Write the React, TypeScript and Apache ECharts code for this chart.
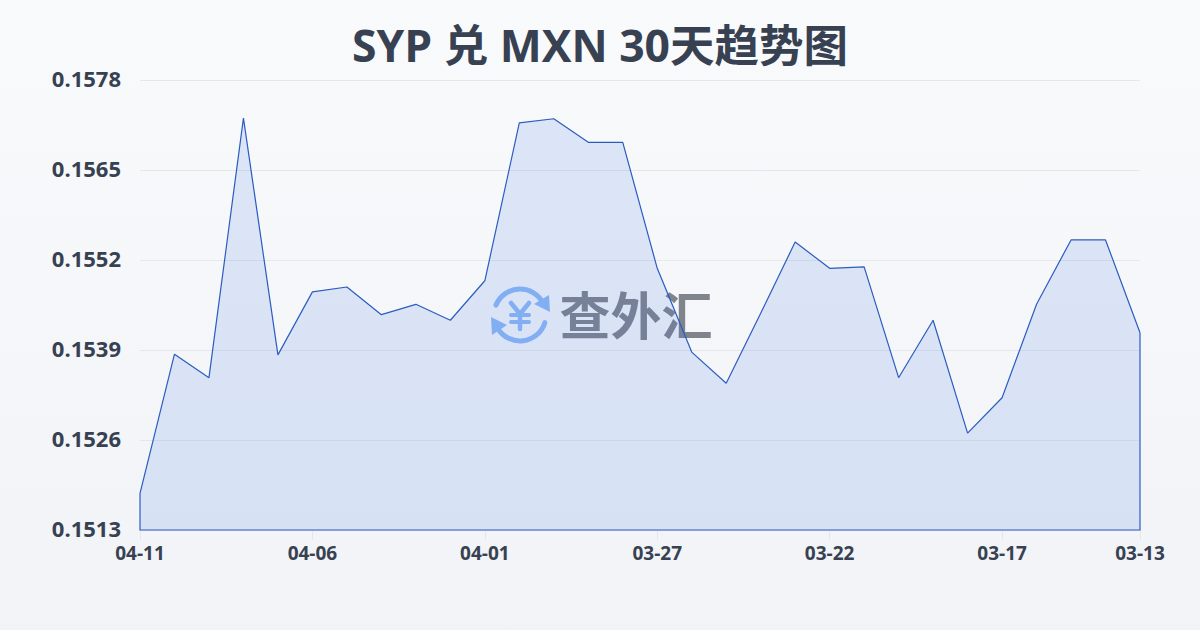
import React, { useEffect, useRef } from "react";
import * as echarts from "echarts";

const titleText = "SYP 兑 MXN 30天趋势图";
const watermarkText = "查外汇";
const categories = [
  "04-11","04-10","04-09","04-08","04-07","04-06","04-05","04-04","04-03","04-02",
  "04-01","03-31","03-30","03-29","03-28","03-27","03-26","03-25","03-24","03-23",
  "03-22","03-21","03-20","03-19","03-18","03-17","03-16","03-15","03-14","03-13",
];
const rates = [
  0.15183,0.15384,0.1535,0.15725,0.15383,0.15474,0.15481,0.15441,0.15456,0.15433,
  0.1549,0.15718,0.15724,0.1569,0.1569,0.15508,0.15387,0.15342,0.15443,0.15546,
  0.15508,0.1551,0.1535,0.15433,0.1527,0.15321,0.15456,0.15549,0.15549,0.15415,
];
const yMin = 0.1513;
const yMax = 0.1578;
const yStep = 0.0013;
const xLabelIndexes = [0, 5, 10, 15, 20, 25, 29];

const LINE = "#2b5cc0";
const TEXT = "#374151";
const LOGO = "#8fb8f7";
const MARK = "rgba(72,76,88,0.68)";

const logoStroke = { stroke: LOGO, lineWidth: 5, fill: "none", lineCap: "round", lineJoin: "round" };

export default function App() {
  const ref = useRef<HTMLDivElement>(null);
  useEffect(() => {
    document.body.style.margin = "0";
    const chart = echarts.init(ref.current!, undefined, { renderer: "svg", width: 1200, height: 630 });
    chart.setOption({
      animation: false,
      backgroundColor: new echarts.graphic.LinearGradient(0, 0, 0, 1, [
        { offset: 0, color: "#f8fafc" },
        { offset: 1, color: "#f1f3f6" },
      ]),
      title: {
        text: titleText,
        left: "center",
        top: 17,
        textStyle: { fontFamily: '"Open Sans", "Noto Sans CJK SC"', fontSize: 44.5, fontWeight: "bold", color: TEXT },
      },
      grid: { left: 140, right: 60, top: 80, bottom: 100 },
      xAxis: {
        type: "category",
        data: categories,
        boundaryGap: false,
        axisLine: { show: false },
        axisTick: {
          show: true, length: 10,
          interval: (i: number) => xLabelIndexes.includes(i),
          lineStyle: { color: "#e5e7eb" },
        },
        axisLabel: {
          interval: (i: number) => xLabelIndexes.includes(i),
          hideOverlap: false,
          margin: 13,
          fontFamily: '"Open Sans"', fontSize: 19, fontWeight: "bold", color: TEXT,
        },
        splitLine: { show: false },
      },
      yAxis: {
        type: "value",
        min: yMin,
        max: yMax,
        interval: yStep,
        axisLine: { show: false },
        axisTick: { show: false },
        axisLabel: {
          margin: 19,
          formatter: (v: number) => v.toFixed(4),
          fontFamily: '"Open Sans"', fontSize: 22, fontWeight: "bold", color: TEXT,
          verticalAlign: "bottom",
          lineHeight: 4,
        },
        splitLine: { show: true, lineStyle: { color: "#e5e7eb", width: 1 } },
      },
      graphic: [
        { type: "arc", z: 1, shape: { cx: 520, cy: 315, r: 26, startAngle: -2.75, endAngle: -0.45 }, style: logoStroke },
        { type: "arc", z: 1, shape: { cx: 520, cy: 315, r: 26, startAngle: 0.3, endAngle: 2.6 }, style: logoStroke },
        { type: "polygon", z: 1, shape: { points: [[549, 295], [550, 312], [534, 304]] }, style: { fill: LOGO } },
        { type: "polygon", z: 1, shape: { points: [[491, 317], [507, 325], [492, 335]] }, style: { fill: LOGO } },
        { type: "polyline", z: 1, shape: { points: [[511, 303], [520, 314], [529, 303]] }, style: { ...logoStroke, lineWidth: 4.5 } },
        { type: "line", z: 1, shape: { x1: 520, y1: 314, x2: 520, y2: 329 }, style: { ...logoStroke, lineWidth: 4.5 } },
        { type: "line", z: 1, shape: { x1: 511, y1: 315, x2: 529, y2: 315 }, style: { ...logoStroke, lineWidth: 4 } },
        { type: "line", z: 1, shape: { x1: 511, y1: 322, x2: 529, y2: 322 }, style: { ...logoStroke, lineWidth: 4 } },
        { type: "text", z: 1, x: 636, y: 313, style: { text: watermarkText, fill: MARK, font: 'bold 51px "Noto Sans CJK SC"', align: "center", verticalAlign: "middle" } },
      ],
      series: [
        {
          type: "line",
          data: rates,
          z: 3,
          symbol: "none",
          smooth: false,
          lineStyle: { color: LINE, width: 1.2 },
          areaStyle: { color: "rgba(59,112,226,0.2)", origin: "start" },
        },
        {
          type: "custom",
          z: 3,
          silent: true,
          data: rates,
          encode: { x: 0, y: 1 },
          renderItem: (params: any, api: any) => {
            if (params.dataIndex !== 0) return { type: "group", children: [] };
            const last = rates.length - 1;
            const pts = [
              api.coord([0, rates[0]]),
              api.coord([0, yMin]),
              api.coord([last, yMin]),
              api.coord([last, rates[last]]),
            ];
            return { type: "polyline", shape: { points: pts }, style: { stroke: LINE, lineWidth: 1.2, fill: "none" } };
          },
        },
      ],
    });
    return () => chart.dispose();
  }, []);
  return <div ref={ref} style={{ width: 1200, height: 630 }} />;
}
